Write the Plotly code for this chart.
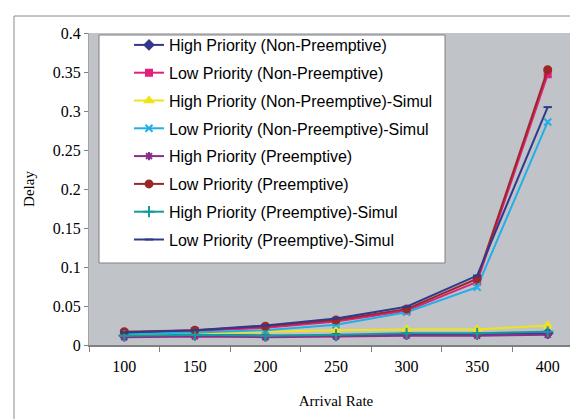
import plotly.graph_objects as go

arrival_rate = ["100", "150", "200", "250", "300", "350", "400"]

high_np = [0.012, 0.013, 0.012, 0.012, 0.014, 0.014, 0.015]
low_np = [0.015, 0.018, 0.022, 0.030, 0.044, 0.081, 0.347]
high_np_sim = [0.013, 0.015, 0.017, 0.019, 0.020, 0.020, 0.025]
low_np_sim = [0.014, 0.016, 0.019, 0.026, 0.042, 0.074, 0.286]
high_p = [0.010, 0.011, 0.010, 0.011, 0.012, 0.012, 0.013]
low_p = [0.017, 0.019, 0.024, 0.032, 0.046, 0.085, 0.353]
high_p_sim = [0.012, 0.013, 0.012, 0.013, 0.015, 0.015, 0.017]
low_p_sim = [0.016, 0.019, 0.025, 0.034, 0.049, 0.089, 0.305]

series = [
    ("High Priority (Non-Preemptive)", high_np, "#34368F", "diamond", 7),
    ("Low Priority (Non-Preemptive)", low_np, "#E0207A", "square", 6),
    ("High Priority (Non-Preemptive)-Simul", high_np_sim, "#F0E31C", "triangle-up", 7),
    ("Low Priority (Non-Preemptive)-Simul", low_np_sim, "#22AEE6", "x-thin-open", 7),
    ("High Priority (Preemptive)", high_p, "#8A2E8A", "asterisk-open", 7),
    ("Low Priority (Preemptive)", low_p, "#9A2828", "circle", 7),
    ("High Priority (Preemptive)-Simul", high_p_sim, "#169A9A", "cross-thin-open", 8),
    ("Low Priority (Preemptive)-Simul", low_p_sim, "#2E3A8C", "line-ew-open", 6),
]

fig = go.Figure()
for i, (name, vals, color, sym, sz) in enumerate(series):
    fig.add_trace(go.Scatter(
        x=arrival_rate, y=vals, name=name, mode="lines+markers",
        line=dict(color=color, width=2),
        marker=dict(symbol=sym, size=sz, color=color, line=dict(color=color, width=2)),
        legendgroup=f"g{i}",
    ))

W, H = 578, 419
L, R, T, B = 81, 3, 25, 82
pw, ph = W - L - R, H - T - B

def px(x):
    return (x - L) / pw

def py(y):
    return (H - B - y) / ph

shapes = [
    dict(type="rect", xref="paper", yref="paper",
         x0=px(6), x1=px(590), y0=py(430), y1=py(8),
         line=dict(color="#8a8a8a", width=1), fillcolor="rgba(0,0,0,0)", layer="below"),
    dict(type="rect", xref="paper", yref="paper",
         x0=px(91), x1=px(437), y0=py(255), y1=py(27),
         line=dict(color="#808080", width=1), fillcolor="white", layer="above"),
]

fig.update_layout(
    width=W, height=H,
    margin=dict(l=L, r=R, t=T, b=B),
    paper_bgcolor="white",
    plot_bgcolor="#C0C4C8",
    shapes=shapes,
    showlegend=True,
    legend=dict(
        x=px(121), y=py(20), xanchor="left", yanchor="top",
        bgcolor="rgba(0,0,0,0)", borderwidth=0,
        font=dict(family="Liberation Sans, Arial, sans-serif", size=16, color="black"),
        tracegroupgap=4, maxheight=400,
    ),
    font=dict(family="Liberation Serif, Times New Roman, serif", color="black"),
)

fig.update_xaxes(
    type="category", range=[-0.5, 6.5],
    showline=True, linecolor="#808080", linewidth=1.5,
    ticks="outside", tickson="boundaries", ticklen=5, tickcolor="#808080",
    tickfont=dict(size=16), ticklabelstandoff=6, showgrid=False, zeroline=False,
    title=dict(text="Arrival Rate", font=dict(size=15), standoff=22),
)
fig.update_yaxes(
    range=[0, 0.4], dtick=0.05,
    showline=True, linecolor="#A0A4A8", linewidth=1,
    ticks="outside", ticklen=4, tickcolor="#808080",
    tickfont=dict(size=16), showgrid=False, zeroline=False,
    title=dict(text="Delay", font=dict(size=15), standoff=14),
)

fig.write_html("out.html")
